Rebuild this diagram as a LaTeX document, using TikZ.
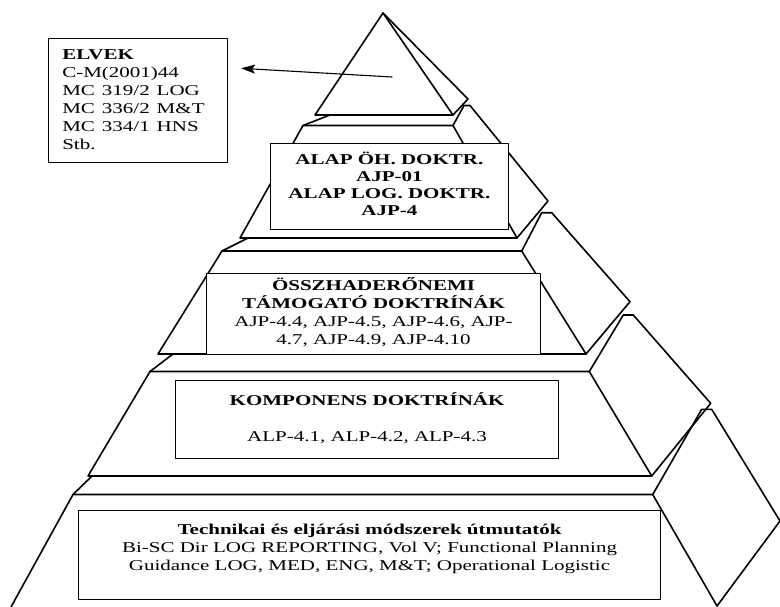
\documentclass[tikz,border=0pt]{standalone}
\usepackage{fontspec}
\usepackage{graphicx}
\setmainfont{Liberation Serif}
\usetikzlibrary{arrows.meta}
\newcommand{\widetext}[2][c]{\scalebox{1.4}[1]{\begin{tabular}{@{}#1@{}}#2\end{tabular}}}

\begin{document}
\begin{tikzpicture}[x=1pt, y=-1pt, line join=round, line cap=round,
    tier/.style={line width=1.6pt},
    doc/.style={draw, line width=1.1pt, fill=white, inner sep=0pt, anchor=north west, align=center, font=\fontsize{15}{18}\selectfont},
    pointer/.style={line width=1.1pt, -{Stealth[length=14pt, width=9pt, inset=3pt]}}]
  \useasboundingbox (0,0) rectangle (780,606);
  \clip (0,0) rectangle (780,606);

  \coordinate (apex) at (383,13);
  \coordinate (bl1) at (315,115);
  \coordinate (br1) at (453,115);
  \coordinate (s1) at (468,99);

  \coordinate (k1) at (330,115);
  \coordinate (tl2) at (303,125.5);
  \coordinate (tr2) at (453,125.5);
  \coordinate (bl2) at (240,238);
  \coordinate (br2) at (517,238);
  \coordinate (e2) at (464,105.5);
  \coordinate (f2) at (470,105.5);
  \coordinate (g2) at (548,201);

  \coordinate (k2) at (248,238);
  \coordinate (tl3) at (222,251);
  \coordinate (tr3) at (521.7,251);
  \coordinate (bl3) at (158,354);
  \coordinate (br3) at (586,354);
  \coordinate (e3) at (541.7,212.7);
  \coordinate (f3) at (551.7,212.7);
  \coordinate (g3) at (630,301.7);

  \coordinate (k3) at (173,354);
  \coordinate (tl4) at (150,371.5);
  \coordinate (tr4) at (589.3,371.5);
  \coordinate (bl4) at (88,476);
  \coordinate (br4) at (651.7,476);
  \coordinate (e4) at (623.3,315);
  \coordinate (f4) at (633.3,315);
  \coordinate (g4) at (710.7,403.3);

  \coordinate (k4) at (92,476);
  \coordinate (tl5) at (73,494.5);
  \coordinate (tr5) at (652.7,494.5);
  \coordinate (bl5) at (11,607);
  \coordinate (br5) at (717,606);
  \coordinate (e5) at (701.7,409.3);
  \coordinate (f5) at (711.7,409.3);
  \coordinate (g5) at (780,521);

  \draw [tier] (bl1) -- (apex) -- (br1) -- cycle;
  \draw [tier] (apex) -- (s1) -- (br1);

  \draw [tier] (k1) -- (tl2);
  \draw [tier] (bl2) -- (tl2) -- (tr2) -- (br2) -- cycle;
  \draw [tier] (tr2) -- (e2) -- (f2) -- (g2) -- (br2);

  \draw [tier] (k2) -- (tl3);
  \draw [tier] (bl3) -- (tl3) -- (tr3) -- (br3) -- cycle;
  \draw [tier] (tr3) -- (e3) -- (f3) -- (g3) -- (br3);

  \draw [tier] (k3) -- (tl4);
  \draw [tier] (bl4) -- (tl4) -- (tr4) -- (br4) -- cycle;
  \draw [tier] (tr4) -- (e4) -- (f4) -- (g4) -- (br4);

  \draw [tier] (k4) -- (tl5);
  \draw [tier] (bl5) -- (tl5) -- (tr5) -- (br5);
  \draw [tier] (tr5) -- (e5) -- (f5) -- (g5) -- (br5);

  \node [doc, minimum width=178.4pt, minimum height=123.4pt, text width=151.6pt, inner xsep=13.4pt, align=left] (elvek) at (48.3,38.3)
    {\widetext[l]{\textbf{ELVEK}\\C-M(2001)44\\MC 319/2 LOG\\MC 336/2 M\&T\\MC 334/1 HNS\\Stb.}};
  \node [doc, minimum width=237.7pt, minimum height=85.7pt, font=\bfseries\fontsize{15}{17}\selectfont] (alap) at (270,143.3)
    {\widetext{ALAP ÖH. DOKTR.\\AJP-01\\ALAP LOG. DOKTR.\\AJP-4}};
  \node [doc, minimum width=334pt, minimum height=81.8pt] (joint) at (206,272.5)
    {\widetext{\textbf{ÖSSZHADERŐNEMI}\\\textbf{TÁMOGATÓ DOKTRÍNÁK}\\AJP-4.4, AJP-4.5, AJP-4.6, AJP-\\4.7, AJP-4.9, AJP-4.10}};
  \node [doc, minimum width=383pt, minimum height=78pt] (component) at (175,380)
    {\widetext{\textbf{KOMPONENS DOKTRÍNÁK}\\[18pt]ALP-4.1, ALP-4.2, ALP-4.3}};
  \node [doc, minimum width=582pt, minimum height=89pt] (technical) at (78,510)
    {\widetext{\textbf{Technikai és eljárási módszerek útmutatók}\\Bi-SC Dir LOG REPORTING, Vol V; Functional Planning\\Guidance LOG, MED, ENG, M\&T; Operational Logistic\\[12pt]}};

  \coordinate (peak) at (392,77);
  \draw [pointer] (peak) -- ([shift={(13.3,30)}]elvek.north east);
\end{tikzpicture}
\end{document}
